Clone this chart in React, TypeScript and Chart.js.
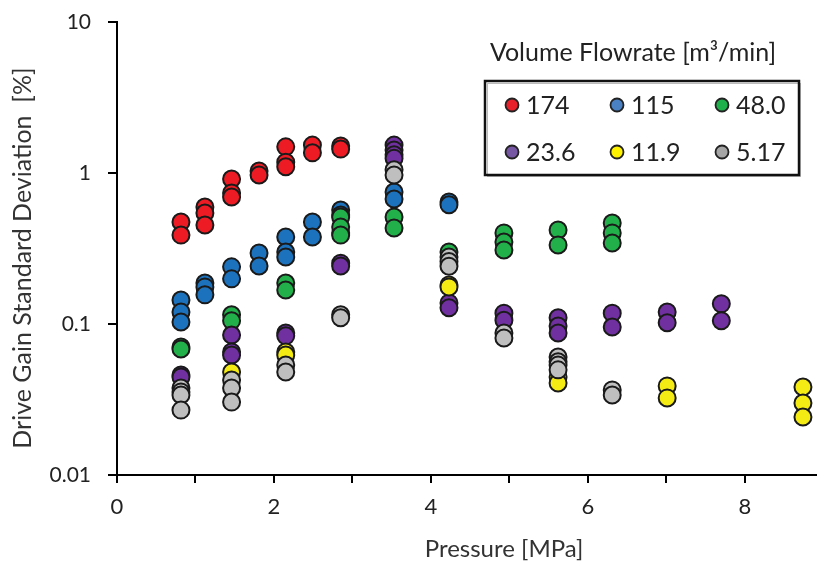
import React, { useEffect, useRef } from "react";
import { Chart, registerables } from "chart.js";

Chart.register(...registerables);

// Flowrate series (m³/min): pressure [MPa] and drive gain standard deviation [%]
const flowrateLabels = ["174", "115", "48.0", "23.6", "11.9", "5.17"];

const pressure174 = [0.815, 0.815, 1.12, 1.12, 1.12, 1.46, 1.46, 1.46, 1.81, 1.81, 2.15, 2.15, 2.15, 2.49, 2.49, 2.85, 2.85];
const deviation174 = [0.474, 0.388, 0.596, 0.543, 0.453, 0.913, 0.738, 0.693, 1.03, 0.97, 1.49, 1.18, 1.1, 1.53, 1.36, 1.51, 1.44];

const pressure115 = [0.815, 0.815, 0.815, 1.12, 1.12, 1.12, 1.46, 1.46, 1.81, 1.81, 2.15, 2.15, 2.15, 2.49, 2.49, 2.85, 2.85, 2.85, 3.53, 3.53, 4.23, 4.23];
const deviation115 = [0.144, 0.12, 0.103, 0.187, 0.176, 0.156, 0.239, 0.199, 0.295, 0.242, 0.377, 0.3, 0.278, 0.474, 0.377, 0.569, 0.527, 0.401, 0.748, 0.673, 0.643, 0.616];

const pressure48 = [0.815, 0.815, 1.46, 1.46, 2.15, 2.15, 2.85, 2.85, 2.85, 3.53, 3.53, 4.23, 4.93, 4.93, 4.93, 5.62, 5.62, 6.31, 6.31, 6.31];
const deviation48 = [0.0704, 0.0683, 0.115, 0.105, 0.187, 0.168, 0.511, 0.439, 0.388, 0.511, 0.432, 0.3, 0.401, 0.349, 0.309, 0.419, 0.334, 0.467, 0.401, 0.344];

const pressure23 = [0.815, 0.815, 1.46, 1.46, 1.46, 2.15, 2.15, 2.85, 2.85, 3.53, 3.53, 3.53, 3.53, 4.23, 4.23, 4.93, 4.93, 5.62, 5.62, 5.62, 6.31, 6.31, 7.01, 7.01, 7.7, 7.7];
const deviation23 = [0.046, 0.0446, 0.0846, 0.0653, 0.0623, 0.0872, 0.0835, 0.253, 0.242, 1.53, 1.42, 1.32, 1.25, 0.138, 0.128, 0.118, 0.106, 0.11, 0.097, 0.0872, 0.118, 0.0955, 0.12, 0.102, 0.136, 0.105];

const pressure11 = [1.46, 2.15, 2.15, 4.23, 4.23, 5.62, 5.62, 7.01, 7.01, 8.74, 8.74, 8.74];
const deviation11 = [0.0481, 0.0653, 0.0623, 0.181, 0.176, 0.0446, 0.0407, 0.0389, 0.0324, 0.0383, 0.03, 0.0242];

const pressure5 = [0.815, 0.815, 0.815, 0.815, 1.46, 1.46, 1.46, 2.15, 2.15, 2.85, 2.85, 3.53, 3.53, 4.23, 4.23, 4.23, 4.93, 4.93, 5.62, 5.62, 5.62, 5.62, 6.31, 6.31];
const deviation5 = [0.0377, 0.0355, 0.0339, 0.0269, 0.0426, 0.0377, 0.0304, 0.0535, 0.0481, 0.115, 0.11, 1.05, 0.97, 0.278, 0.259, 0.241, 0.0872, 0.0808, 0.0604, 0.0562, 0.0535, 0.0497, 0.0366, 0.0339];

const xTickValues = [0, 1, 2, 3, 4, 5, 6, 7, 8];
const yTickValues = [0.01, 0.1, 1, 10];
const yTickLabels = ["0.01", "0.1", "1", "10"];

const pointColors = ["#ED1C24", "#1C72BD", "#22B04B", "#7030A0", "#F5EB14", "#BFBFBF"];
const legendColors = ["#E8202A", "#4A80C4", "#1DB04B", "#7657A3", "#FFF200", "#A6A6A6"];

const FONT = "Lato, 'Open Sans', sans-serif";

const seriesPoints = [
  [pressure174, deviation174],
  [pressure115, deviation115],
  [pressure48, deviation48],
  [pressure23, deviation23],
  [pressure11, deviation11],
  [pressure5, deviation5],
].map(([xs, ys]) => xs.map((x, i) => ({ x, y: ys[i] })));

// Axis titles and the boxed legend with its heading
const annotationPlugin = {
  id: "annotations",
  afterDraw(chart: any) {
    const ctx = chart.ctx as CanvasRenderingContext2D;
    ctx.save();

    ctx.fillStyle = "#333";
    ctx.font = `24px ${FONT}`;
    ctx.textAlign = "center";
    ctx.textBaseline = "middle";
    ctx.fillText("Pressure [MPa]", 504, 549);

    ctx.save();
    ctx.translate(23, 258);
    ctx.rotate(-Math.PI / 2);
    ctx.font = `25px ${FONT}`;
    ctx.fillText("Drive Gain Standard Deviation  [%]", 0, 0);
    ctx.restore();

    ctx.fillStyle = "#222";
    ctx.font = `25px ${FONT}`;
    ctx.fillText("Volume Flowrate [m³/min]", 633, 53);

    ctx.fillStyle = "#fff";
    ctx.fillRect(485, 81, 314, 94);
    ctx.strokeStyle = "#bbb";
    ctx.lineWidth = 1;
    ctx.strokeRect(487.5, 83.5, 313, 93);
    ctx.strokeStyle = "#111";
    ctx.lineWidth = 2.5;
    ctx.strokeRect(485, 81, 314, 94);

    const colX = [512, 617, 722];
    const rowY = [105, 152];
    ctx.font = `25px ${FONT}`;
    ctx.textAlign = "left";
    flowrateLabels.forEach((label, i) => {
      const cx = colX[i % 3];
      const cy = rowY[Math.floor(i / 3)];
      ctx.beginPath();
      ctx.arc(cx, cy, 6.5, 0, Math.PI * 2);
      ctx.fillStyle = legendColors[i];
      ctx.fill();
      ctx.lineWidth = 1.8;
      ctx.strokeStyle = "#222";
      ctx.stroke();
      ctx.fillStyle = "#222";
      ctx.fillText(label, cx + 14, cy + 1);
    });

    ctx.restore();
  },
};

export default function App() {
  const canvasRef = useRef<HTMLCanvasElement | null>(null);

  useEffect(() => {
    const canvas = canvasRef.current;
    if (!canvas) return;

    const chart = new Chart(canvas, {
      type: "scatter",
      data: {
        datasets: seriesPoints.map((points, i) => ({
          label: flowrateLabels[i],
          data: points,
          backgroundColor: pointColors[i],
          borderColor: "#1a1a1a",
          borderWidth: 2,
          pointRadius: 8.5,
          pointHoverRadius: 8.5,
          order: seriesPoints.length - i,
        })),
      },
      options: {
        animation: false,
        responsive: false,
        devicePixelRatio: 1,
        layout: { padding: { top: 22, right: 0, left: 0, bottom: 0 } },
        plugins: {
          legend: { display: false },
          tooltip: { enabled: false },
        },
        scales: {
          x: {
            type: "linear",
            min: 0,
            max: 8.9,
            afterBuildTicks: (scale: any) => {
              scale.ticks = xTickValues.map((value) => ({ value }));
            },
            afterFit: (scale: any) => {
              scale.height = 93;
              scale.paddingLeft = 0;
              scale.paddingRight = 0;
            },
            ticks: {
              callback: (value: any) => (Number(value) % 2 === 0 ? String(value) : ""),
              font: { family: FONT, size: 22 },
              color: "#222",
              padding: 11,
              maxRotation: 0,
              autoSkip: false,
            },
            grid: {
              drawOnChartArea: false,
              drawTicks: true,
              tickLength: 8,
              color: "#000",
              lineWidth: 2,
            },
            border: { display: true, color: "#000", width: 2 },
          },
          y: {
            type: "logarithmic",
            min: 0.01,
            max: 10,
            afterBuildTicks: (scale: any) => {
              scale.ticks = yTickValues.map((value) => ({ value }));
            },
            afterFit: (scale: any) => {
              scale.width = 117;
              scale.paddingTop = 0;
              scale.paddingBottom = 0;
            },
            ticks: {
              callback: (value: any) => {
                const idx = yTickValues.findIndex((v) => Math.abs(v - Number(value)) < 1e-9);
                return idx >= 0 ? yTickLabels[idx] : "";
              },
              font: { family: FONT, size: 21 },
              color: "#222",
              padding: 17,
              autoSkip: false,
            },
            grid: {
              drawOnChartArea: false,
              drawTicks: true,
              tickLength: 9,
              color: "#000",
              lineWidth: 2,
            },
            border: { display: true, color: "#000", width: 2 },
          },
        },
      },
      plugins: [annotationPlugin],
    });

    return () => chart.destroy();
  }, []);

  return (
    <div style={{ position: "absolute", left: 0, top: 0, width: 826, height: 568, background: "#fff" }}>
      <canvas ref={canvasRef} width={826} height={568} />
    </div>
  );
}
